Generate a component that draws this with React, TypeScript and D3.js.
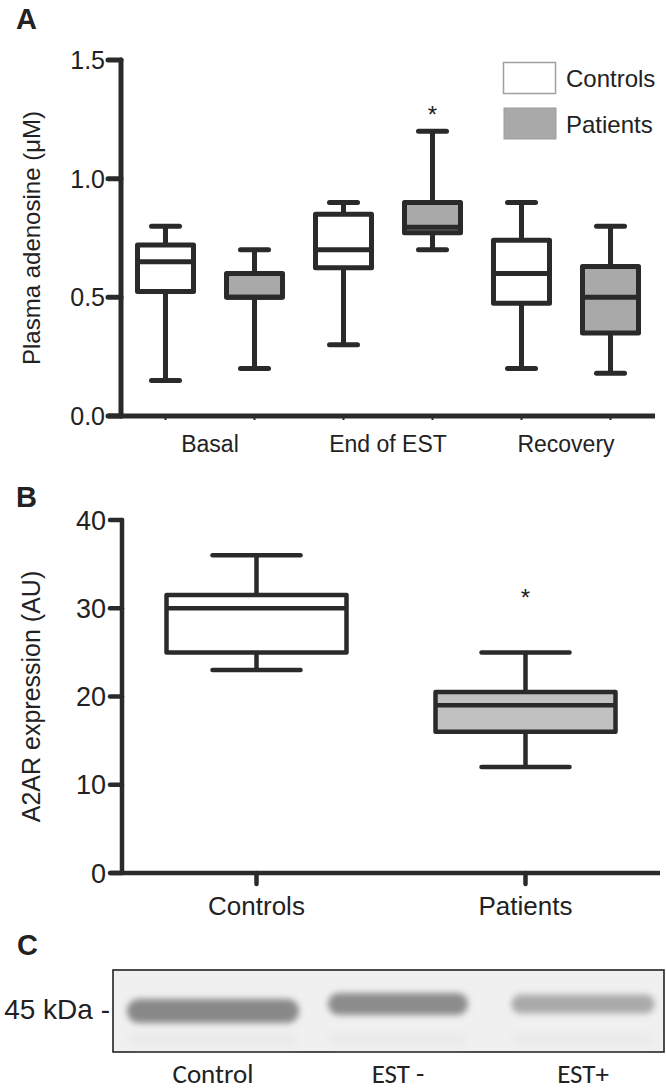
import React from "react";
import * as d3 from "d3";

// ---------- DATA ----------
const timepoints = ["Basal", "End of EST", "Recovery"];
const cohorts = ["Controls", "Patients"];

// Panel A: plasma adenosine (µM), box stats per timepoint
const adenosineControls = [
  { min: 0.15, q1: 0.525, median: 0.65, q3: 0.72, max: 0.8 },
  { min: 0.3, q1: 0.625, median: 0.7, q3: 0.85, max: 0.9 },
  { min: 0.2, q1: 0.475, median: 0.6, q3: 0.74, max: 0.9 },
];
const adenosinePatients = [
  { min: 0.2, q1: 0.5, median: 0.5, q3: 0.6, max: 0.7 },
  { min: 0.7, q1: 0.772, median: 0.795, q3: 0.9, max: 1.2 },
  { min: 0.18, q1: 0.35, median: 0.5, q3: 0.63, max: 0.8 },
];
const adenosineSignificant = [false, true, false];
const adenosineTicks = [0, 0.5, 1.0, 1.5];

// Panel B: A2AR expression (AU)
const a2arControls = { min: 23, q1: 25, median: 30, q3: 31.5, max: 36 };
const a2arPatients = { min: 12, q1: 16, median: 19, q3: 20.5, max: 25 };
const a2arSignificant = [false, true];
const a2arTicks = [0, 10, 20, 30, 40];

// Panel C: western blot lanes
const blotLanes = ["Control", "EST -", "EST+"];
const bandIntensity = [1.0, 0.95, 0.6];
const bandSpread = [1.0, 0.82, 0.84];

// ---------- STYLE ----------
const INK = "#2a2a2a";
const FONT = "'Liberation Sans', Arial, sans-serif";
const FILL_A = "#a9a9a9";
const FILL_B = "#c1c1c1";

type Box = { min: number; q1: number; median: number; q3: number; max: number };

function BoxPlot({
  s, cx, halfW, capHalf, y, fill, sw,
}: { s: Box; cx: number; halfW: number; capHalf: number; y: d3.ScaleLinear<number, number>; fill: string; sw: number }) {
  return (
    <g stroke={INK} strokeWidth={sw}>
      <line x1={cx} x2={cx} y1={y(s.max)} y2={y(s.q3)} />
      <line x1={cx} x2={cx} y1={y(s.q1)} y2={y(s.min)} />
      <line x1={cx - capHalf} x2={cx + capHalf} y1={y(s.max)} y2={y(s.max)} strokeLinecap="round" />
      <line x1={cx - capHalf} x2={cx + capHalf} y1={y(s.min)} y2={y(s.min)} strokeLinecap="round" />
      <rect x={cx - halfW} y={y(s.q3)} width={halfW * 2} height={y(s.q1) - y(s.q3)} fill={fill} strokeLinejoin="round" />
      <line x1={cx - halfW} x2={cx + halfW} y1={y(s.median)} y2={y(s.median)} />
    </g>
  );
}

export default function App() {
  // ----- Panel A scales -----
  const yA = d3.scaleLinear().domain([0, 1.5]).range([416, 60]);
  const xA = d3.scaleBand().domain(timepoints).range([121, 655]).padding(0);
  const xSub = d3.scalePoint().domain(cohorts).range([0, xA.bandwidth()]).padding(0.5);
  const axisLeftA = 121;

  // ----- Panel B scales -----
  const yB = d3.scaleLinear().domain([0, 40]).range([873, 520]);
  const xB = d3.scalePoint().domain(cohorts).range([122, 660]).padding(0.5);
  const axisLeftB = 122;

  // ----- Panel C -----
  const blotX0 = 113, blotX1 = 664, blotY0 = 970, blotY1 = 1052;
  const xC = d3.scalePoint().domain(blotLanes).range([213, 583]);
  const bandShade = d3.scaleLinear<string>().domain([0, 1]).range(["#dcdcdc", "#888888"]);

  return (
    <svg width={666} height={1090} style={{ position: "absolute", left: 0, top: 0, background: "#fff" }} fontFamily={FONT}>
      <defs>
        <filter id="blur" x="-20%" y="-100%" width="140%" height="300%">
          <feGaussianBlur stdDeviation="3" />
        </filter>
        <filter id="blur2" x="-20%" y="-100%" width="140%" height="300%">
          <feGaussianBlur stdDeviation="5" />
        </filter>
      </defs>

      {/* ================= PANEL A ================= */}
      <text x={16} y={29} fontSize={29} fontWeight="bold" fill="#222">A</text>
      <text transform={`translate(40,${(yA(0) + yA(1.5)) / 2}) rotate(-90)`} textAnchor="middle" fontSize={24} fill="#222">
        Plasma adenosine (μM)
      </text>
      <g stroke={INK} strokeWidth={5}>
        <line x1={axisLeftA} x2={axisLeftA} y1={yA(1.5)} y2={yA(0)} strokeLinecap="round" />
        {adenosineTicks.map((t) => (
          <line key={t} x1={108} x2={axisLeftA} y1={yA(t)} y2={yA(t)} strokeLinecap="round" />
        ))}
        <line x1={108} x2={655} y1={yA(0)} y2={yA(0)} />
        {timepoints.map((tp) =>
          cohorts.map((c) => {
            const cx = (xA(tp) as number) + (xSub(c) as number);
            return <line key={tp + c} x1={cx} x2={cx} y1={yA(0)} y2={yA(0) + 4} strokeWidth={2} />;
          })
        )}
      </g>
      {adenosineTicks.map((t) => (
        <text key={t} x={105} y={yA(t)} dy="0.36em" textAnchor="end" fontSize={25} fill="#222">
          {t.toFixed(1)}
        </text>
      ))}
      {timepoints.map((tp) => (
        <text key={tp} x={(xA(tp) as number) + xA.bandwidth() / 2} y={452} textAnchor="middle" fontSize={23} fill="#222">
          {tp}
        </text>
      ))}
      {timepoints.map((tp, i) => (
        <g key={tp}>
          <BoxPlot s={adenosineControls[i]} cx={(xA(tp) as number) + (xSub("Controls") as number)} halfW={28} capHalf={14} y={yA} fill="#fff" sw={5} />
          <BoxPlot s={adenosinePatients[i]} cx={(xA(tp) as number) + (xSub("Patients") as number)} halfW={28} capHalf={14} y={yA} fill={FILL_A} sw={5} />
          {adenosineSignificant[i] && (
            <text x={(xA(tp) as number) + (xSub("Patients") as number)} y={yA(adenosinePatients[i].max) - 8} textAnchor="middle" fontSize={24} fill="#222">*</text>
          )}
        </g>
      ))}
      {/* legend */}
      <rect x={503.5} y={62.5} width={52} height={31} fill="#fff" stroke="#a0a0a0" strokeWidth={1.5} />
      <rect x={504} y={108} width={52} height={31} fill={FILL_A} stroke="#9c9c9c" strokeWidth={1} />
      <text x={566} y={87} fontSize={24} fill="#222">{cohorts[0]}</text>
      <text x={566} y={133} fontSize={24} fill="#222">{cohorts[1]}</text>

      {/* ================= PANEL B ================= */}
      <text x={16} y={507} fontSize={29} fontWeight="bold" fill="#222">B</text>
      <text transform={`translate(40,${(yB(0) + yB(40)) / 2}) rotate(-90)`} textAnchor="middle" fontSize={25} fill="#222">
        A2AR expression (AU)
      </text>
      <g stroke={INK} strokeWidth={4.5}>
        <line x1={axisLeftB} x2={axisLeftB} y1={yB(40)} y2={yB(0)} strokeLinecap="round" />
        {a2arTicks.map((t) => (
          <line key={t} x1={110} x2={axisLeftB} y1={yB(t)} y2={yB(t)} strokeLinecap="round" />
        ))}
        <line x1={110} x2={660} y1={yB(0)} y2={yB(0)} />
        {cohorts.map((c) => (
          <line key={c} x1={xB(c)} x2={xB(c)} y1={yB(0)} y2={yB(0) + 11} strokeLinecap="round" />
        ))}
      </g>
      {a2arTicks.map((t) => (
        <text key={t} x={106} y={yB(t)} dy="0.36em" textAnchor="end" fontSize={27} fill="#222">{t}</text>
      ))}
      {cohorts.map((c) => (
        <text key={c} x={xB(c)} y={915} textAnchor="middle" fontSize={26} fill="#222">{c}</text>
      ))}
      <BoxPlot s={a2arControls} cx={xB("Controls") as number} halfW={90} capHalf={44} y={yB} fill="#fff" sw={4.5} />
      <BoxPlot s={a2arPatients} cx={xB("Patients") as number} halfW={90} capHalf={44} y={yB} fill={FILL_B} sw={4.5} />
      {cohorts.map((c, i) =>
        a2arSignificant[i] ? (
          <text key={c} x={xB(c)} y={yB(32.3)} dy="0.75em" textAnchor="middle" fontSize={24} fill="#222">*</text>
        ) : null
      )}

      {/* ================= PANEL C ================= */}
      <text x={17} y={955} fontSize={29} fontWeight="bold" fill="#222">C</text>
      <rect x={blotX0} y={blotY0} width={blotX1 - blotX0} height={blotY1 - blotY0} fill="#f0f0f0" stroke="#222" strokeWidth={1.6} />
      <g>
        {blotLanes.map((l, i) => {
          const w = 178 * bandSpread[i];
          const h = 14 + 10 * bandSpread[i] * bandIntensity[i];
          const cy = i === 0 ? 1011 : 1004;
          return (
            <g key={l}>
              <rect x={(xC(l) as number) - w / 2 + 4} y={1034} width={w - 8} height={10} rx={5} fill="#e9e9e9" filter="url(#blur2)" />
              <rect x={(xC(l) as number) - w / 2 + 3} y={cy - h / 2} width={w - 6} height={h} rx={h / 2} fill={bandShade(bandIntensity[i])} filter="url(#blur)" />
            </g>
          );
        })}
      </g>
      <text x={110} y={1019} textAnchor="end" fontSize={28} fill="#222">45 kDa -</text>
      {blotLanes.map((l) => (
        <text key={l} x={xC(l)} y={1083} textAnchor="middle" fontSize={27} fontFamily="Carlito, Lato, sans-serif" fill="#222">{l}</text>
      ))}
    </svg>
  );
}
